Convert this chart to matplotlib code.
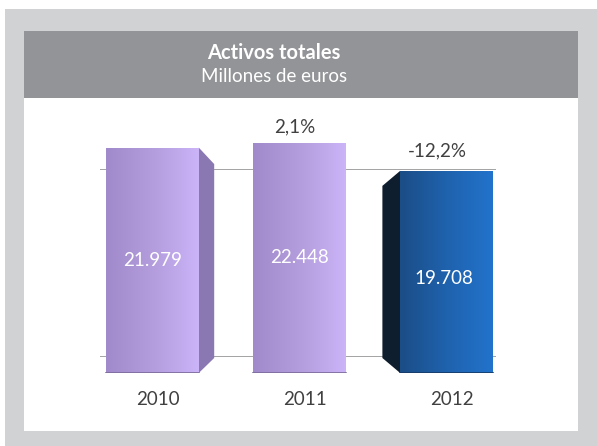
"""
Activos totales - gráfico de barras con efecto 3D
"""
import matplotlib
matplotlib.use('Agg')
import matplotlib.pyplot as plt
import numpy as np
from matplotlib.patches import Rectangle, Polygon
from matplotlib.colors import LinearSegmentedColormap

# Datos
years = ['2010', '2011', '2012']
values = [21979, 22448, 19708]
changes = ['', '2,1%', '-12,2%']
wall_levels = [0, 20000]

plt.rcParams['font.family'] = ['Lato', 'DejaVu Sans']

W, H = 597, 446
fig = plt.figure(figsize=(W / 100, H / 100), dpi=100, facecolor='white')


def px_rect(x0, y0, x1, y1, z, **kw):
    # rectángulo en píxeles (origen arriba a la izquierda)
    r = Rectangle((x0 / W, 1 - y1 / H), (x1 - x0) / W, (y1 - y0) / H,
                  transform=fig.transFigure, linewidth=0, zorder=z, **kw)
    fig.patches.append(r)


# Fondo gris, barra de título y panel blanco
px_rect(5, 9, W, H, -3, facecolor='#d1d2d4')
px_rect(24, 31, 578, 98, -2, facecolor='#939497')
px_rect(24, 98, 578, 431, -2, facecolor='white')

fig.text(274 / W, 1 - 53 / H, 'Activos totales', color='white', fontsize=14.5,
         fontweight='bold', ha='center', va='center')
fig.text(274 / W, 1 - 76 / H, 'Millones de euros', color='white', fontsize=13.5,
         ha='center', va='center')

# Pared del fondo (líneas de rejilla en perspectiva)
wall = fig.add_axes([100 / W, 1 - 357 / H, 396 / W, 188 / H])
wall.set_ylim(0, 20000)
for lv in wall_levels:
    wall.axhline(lv, color='#a3a3a3', linewidth=1.4)
wall.axis('off')

# Ejes principales: 0 en y=373 px, 97.5 unidades por píxel
ax = fig.add_axes([24 / W, 1 - 373 / H, 554 / W, 275 / H])
ax.patch.set_alpha(0)
for s in ax.spines.values():
    s.set_visible(False)
ax.set_yticks([])

x = np.arange(len(values))
width = 0.63
dx = 0.105          # profundidad lateral (unidades x)
dy = 15 * 97.5      # profundidad vertical (unidades y)

purple = LinearSegmentedColormap.from_list('p', ['#a08acb', '#b39ddc', '#cbb4f8'])
blue = LinearSegmentedColormap.from_list('b', ['#1b4d86', '#1f62ad', '#2273cc'])
grad = np.linspace(0, 1, 256).reshape(1, -1)

bars = ax.bar(x, values, width=width, color='#b39ddc', linewidth=0, zorder=3)
for i, b in enumerate(bars):
    cmap = blue if i == 2 else purple
    x0, x1, h = b.get_x(), b.get_x() + b.get_width(), b.get_height()
    im = ax.imshow(grad, cmap=cmap, extent=[x0, x1, 0, h], aspect='auto',
                   zorder=4)
    im.set_clip_path(b)
    ax.plot([x0, x1], [0, 0], color='#7a6a98' if i < 2 else '#163a66',
            linewidth=1.2, zorder=5)
    # cara lateral
    if i == 0:
        side = Polygon([(x1, 0), (x1 + dx, dy), (x1 + dx, h - dy * 1.1), (x1, h)],
                       closed=True, facecolor='#8a78b2', linewidth=0, zorder=2)
        ax.add_patch(side)
    elif i == 2:
        side = Polygon([(x0, 0), (x0 - dx * 1.15, dy), (x0 - dx * 1.15, h - dy), (x0, h)],
                       closed=True, facecolor='#0f1e2e', linewidth=0, zorder=2)
        ax.add_patch(side)

ax.set_xlim(-0.874, 2.895)
ax.set_ylim(0, 275 * 97.5)

# Etiquetas de valor
for i, v in enumerate(values):
    ax.text(x[i] + (0.0 if i < 2 else -0.02), v / 2 + (0 if i < 2 else -600),
            f'{v:,}'.replace(',', '.'), color='white', fontsize=13.5,
            ha='center', va='center', zorder=6)

# Variaciones
for i, c in enumerate(changes):
    if c:
        xoff = -0.03 if i == 1 else -0.06
        ax.annotate(c, (x[i] + xoff, values[i]), xytext=(0, 5 if i == 1 else 8),
                    textcoords='offset points', ha='center', va='bottom',
                    color='#404040', fontsize=13.5, zorder=6)

ax.set_xticks(x + 0.04)
ax.set_xticklabels(years, fontsize=13.5, color='#404040')
ax.tick_params(axis='x', length=0, pad=13)

fig.savefig('out.png', dpi=100, facecolor=fig.get_facecolor())
plt.close(fig)
